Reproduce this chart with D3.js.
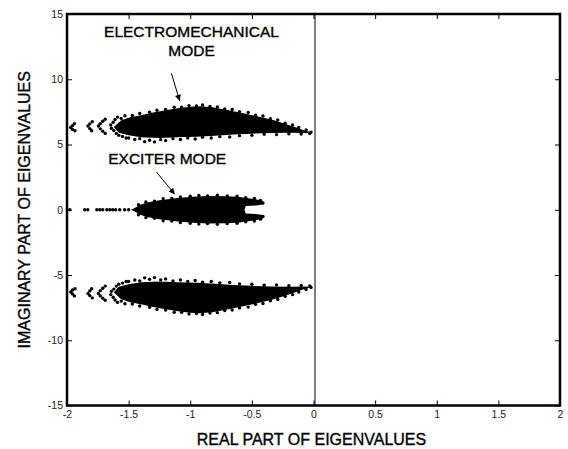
<!DOCTYPE html>
<html>
<head>
<meta charset="utf-8">
<script src="https://cdn.jsdelivr.net/npm/d3@7"></script>
<style>
  body { margin: 0; background: #fff; }
  svg { display: block; font-family: "Liberation Sans", Arial, sans-serif; }
</style>
</head>
<body>
<div id="chart"></div>
<script>
const xTicks = [-2, -1.5, -1, -0.5, 0, 0.5, 1, 1.5, 2];
const yTicks = [-15, -10, -5, 0, 5, 10, 15];

// electromechanical mode (upper half plane), outline of the dense core [re, im]
const emTop = [
  [-1.62, 6.35], [-1.56, 6.85], [-1.48, 7.1], [-1.4, 7.25], [-1.3, 7.45], [-1.2, 7.62], [-1.1, 7.78],
  [-1.0, 7.9], [-0.92, 7.93], [-0.82, 7.85], [-0.7, 7.65], [-0.58, 7.42], [-0.45, 7.15],
  [-0.32, 6.85], [-0.22, 6.55], [-0.14, 6.3], [-0.08, 6.1], [-0.03, 5.97]
];
const emBottom = [
  [-0.05, 5.88], [-0.2, 5.9], [-0.35, 5.88], [-0.5, 5.83], [-0.65, 5.76], [-0.8, 5.68],
  [-0.95, 5.6], [-1.1, 5.55], [-1.25, 5.5], [-1.4, 5.55], [-1.5, 5.7], [-1.58, 5.9]
];
// single eigenvalues of the electromechanical mode (sparse tail and ragged edges)
const emPoints = [
  [-1.97, 6.3], [-1.955, 6.45], [-1.94, 6.6], [-1.955, 6.15], [-1.935, 6.05],
  [-1.83, 6.42], [-1.815, 6.58], [-1.795, 6.75], [-1.815, 6.22], [-1.8, 6.05],
  [-1.745, 6.42], [-1.73, 6.6], [-1.71, 6.78], [-1.69, 6.93], [-1.73, 6.2], [-1.71, 6.02], [-1.69, 5.85],
  [-1.645, 6.5], [-1.625, 6.7], [-1.61, 6.92], [-1.59, 7.1], [-1.64, 6.25], [-1.62, 6.08], [-1.6, 5.85], [-1.58, 5.7],
  [-1.56, 7.0], [-1.53, 7.2], [-1.55, 5.62], [-1.52, 5.5],
  [-1.5, 5.5], [-1.45, 5.38], [-1.41, 5.45], [-1.37, 5.22], [-1.33, 5.33], [-1.29, 5.2], [-1.24, 5.37],
  [-1.2, 5.3], [-1.14, 5.45], [-1.08, 5.38], [-1.02, 5.5], [-0.96, 5.42], [-0.9, 5.55], [-0.83, 5.5],
  [-0.76, 5.6], [-0.68, 5.58], [-0.6, 5.68], [-0.5, 5.7], [-0.4, 5.78], [-0.3, 5.76], [-0.2, 5.82],
  [-0.1, 5.8], [-0.03, 5.84],
  [-1.47, 7.22], [-1.41, 7.38], [-1.33, 7.47], [-1.27, 7.62], [-1.2, 7.68], [-1.13, 7.85], [-1.07, 7.86],
  [-1.01, 7.98], [-0.95, 7.95], [-0.9, 8.03], [-0.84, 7.92], [-0.78, 7.88], [-0.72, 7.72], [-0.66, 7.68],
  [-0.6, 7.52], [-0.53, 7.46], [-0.47, 7.25], [-0.41, 7.18], [-0.35, 6.98], [-0.29, 6.88], [-0.23, 6.63],
  [-0.17, 6.5], [-0.12, 6.3], [-0.06, 6.12], [-0.02, 5.95]
];

// exciter mode (upper half plane), outline from the left tip round to the real axis
const exOutline = [
  [-1.48, 0], [-1.44, 0.2], [-1.4, 0.4], [-1.35, 0.55], [-1.25, 0.73], [-1.1, 0.9],
  [-0.98, 1.0], [-0.85, 1.05], [-0.7, 1.03], [-0.6, 0.98], [-0.5, 0.85], [-0.45, 0.76],
  [-0.41, 0.68], [-0.41, 0.4], [-0.47, 0.33], [-0.55, 0.28], [-0.56, 0]
];
const exPoints = [
  [-1.42, 0.38], [-1.36, 0.6], [-1.29, 0.66], [-1.22, 0.84], [-1.15, 0.86], [-1.08, 0.98], [-1.0, 1.04],
  [-0.93, 1.1], [-0.86, 1.06], [-0.78, 1.12], [-0.7, 1.06], [-0.62, 1.04], [-0.55, 0.92], [-0.48, 0.86],
  [-0.43, 0.72], [-0.41, 0.52]
];
// real eigenvalues left of the exciter mode
const exTail = [
  [-1.977, 0], [-1.856, 0], [-1.831, 0], [-1.758, 0], [-1.734, 0], [-1.71, 0], [-1.677, 0],
  [-1.653, 0], [-1.629, 0], [-1.605, 0], [-1.572, 0], [-1.532, 0], [-1.5, 0]
];

const labels = [
  { text: "ELECTROMECHANICAL", x: -0.99, y: 13.22 },
  { text: "MODE", x: -0.99, y: 11.76 },
  { text: "EXCITER MODE", x: -1.187, y: 3.54 }
];
const arrows = [
  { from: [-1.153, 10.46], to: [-1.086, 8.34] },
  { from: [-1.275, 2.9], to: [-1.126, 1.19] }
];

// eigenvalues of a real system come in conjugate pairs
const conj = pts => pts.map(d => [d[0], -d[1]]);

const width = 568, height = 449;
const mLeft = 67, mRight = 560, mTop = 14, mBottom = 405.5;

const svg = d3.select("#chart").append("svg")
  .attr("width", width)
  .attr("height", height);

const x = d3.scaleLinear().domain([-2, 2]).range([mLeft, mRight]);
const y = d3.scaleLinear().domain([-15, 15]).range([mBottom, mTop]);

// stability boundary
svg.append("line")
  .attr("x1", x(0) + 1.5).attr("x2", x(0) + 1.5)
  .attr("y1", mTop).attr("y2", mBottom)
  .attr("stroke", "#000").attr("stroke-width", 1);

const outline = d3.line().x(d => x(d[0])).y(d => y(d[1])).curve(d3.curveLinearClosed);

const emShape = emTop.concat(emBottom);
const exShape = exOutline.concat(conj(exOutline).reverse());

const g = svg.append("g");
[emShape, conj(emShape), exShape].forEach(s => {
  g.append("path").attr("d", outline(s)).attr("fill", "#000");
});

const dots = emPoints.concat(conj(emPoints), exPoints, conj(exPoints), exTail);
g.selectAll("circle")
  .data(dots)
  .enter()
  .append("circle")
  .attr("cx", d => x(d[0]))
  .attr("cy", d => y(d[1]))
  .attr("r", 1.7)
  .attr("fill", "#000");

// axes, ticks pointing inward on all four sides
const fmt = d => String(d);
const axStyle = a => {
  a.select(".domain").remove();
  a.selectAll("line").attr("stroke", "#000");
  a.selectAll("text").attr("font-size", 10.5).attr("fill", "#222")
    .attr("font-family", "Liberation Sans, Arial, sans-serif");
};

svg.append("g").attr("transform", `translate(0,${mBottom})`)
  .call(d3.axisBottom(x).tickValues(xTicks).tickFormat(fmt).tickSize(-5).tickPadding(5))
  .call(axStyle);
svg.append("g").attr("transform", `translate(0,${mTop})`)
  .call(d3.axisTop(x).tickValues(xTicks).tickFormat("").tickSize(-5))
  .call(axStyle);
svg.append("g").attr("transform", `translate(${mLeft},0)`)
  .call(d3.axisLeft(y).tickValues(yTicks).tickFormat(fmt).tickSize(-5).tickPadding(4))
  .call(axStyle);
svg.append("g").attr("transform", `translate(${mRight},0)`)
  .call(d3.axisRight(y).tickValues(yTicks).tickFormat("").tickSize(-5))
  .call(axStyle);

svg.append("rect")
  .attr("x", mLeft).attr("y", mTop)
  .attr("width", mRight - mLeft).attr("height", mBottom - mTop)
  .attr("fill", "none").attr("stroke", "#000").attr("stroke-width", 2.5);

// annotations
svg.append("defs").append("marker")
  .attr("id", "head")
  .attr("viewBox", "0 0 10 10")
  .attr("refX", 10).attr("refY", 5)
  .attr("markerWidth", 7).attr("markerHeight", 6)
  .attr("markerUnits", "userSpaceOnUse")
  .attr("orient", "auto")
  .append("path").attr("d", "M0,0 L10,5 L0,10 Z").attr("fill", "#000");

svg.selectAll(".arrow")
  .data(arrows)
  .enter()
  .append("line")
  .attr("class", "arrow")
  .attr("x1", d => x(d.from[0])).attr("y1", d => y(d.from[1]))
  .attr("x2", d => x(d.to[0])).attr("y2", d => y(d.to[1]))
  .attr("stroke", "#000").attr("stroke-width", 1)
  .attr("marker-end", "url(#head)");

const heavy = t => t.attr("stroke", "#000").attr("stroke-width", 0.35);

svg.selectAll(".note")
  .data(labels)
  .enter()
  .append("text")
  .attr("class", "note")
  .attr("x", d => x(d.x)).attr("y", d => y(d.y))
  .attr("text-anchor", "middle")
  .attr("font-size", 15.5)
  .text(d => d.text)
  .call(heavy);

svg.append("text")
  .attr("x", x(0) - 2).attr("y", 445)
  .attr("text-anchor", "middle")
  .attr("font-size", 16)
  .text("REAL PART OF EIGENVALUES")
  .call(heavy);

svg.append("text")
  .attr("transform", `translate(29.5,${(mTop + mBottom) / 2}) rotate(-90)`)
  .attr("text-anchor", "middle")
  .attr("font-size", 16)
  .text("IMAGINARY PART OF EIGENVALUES")
  .call(heavy);
</script>
</body>
</html>
